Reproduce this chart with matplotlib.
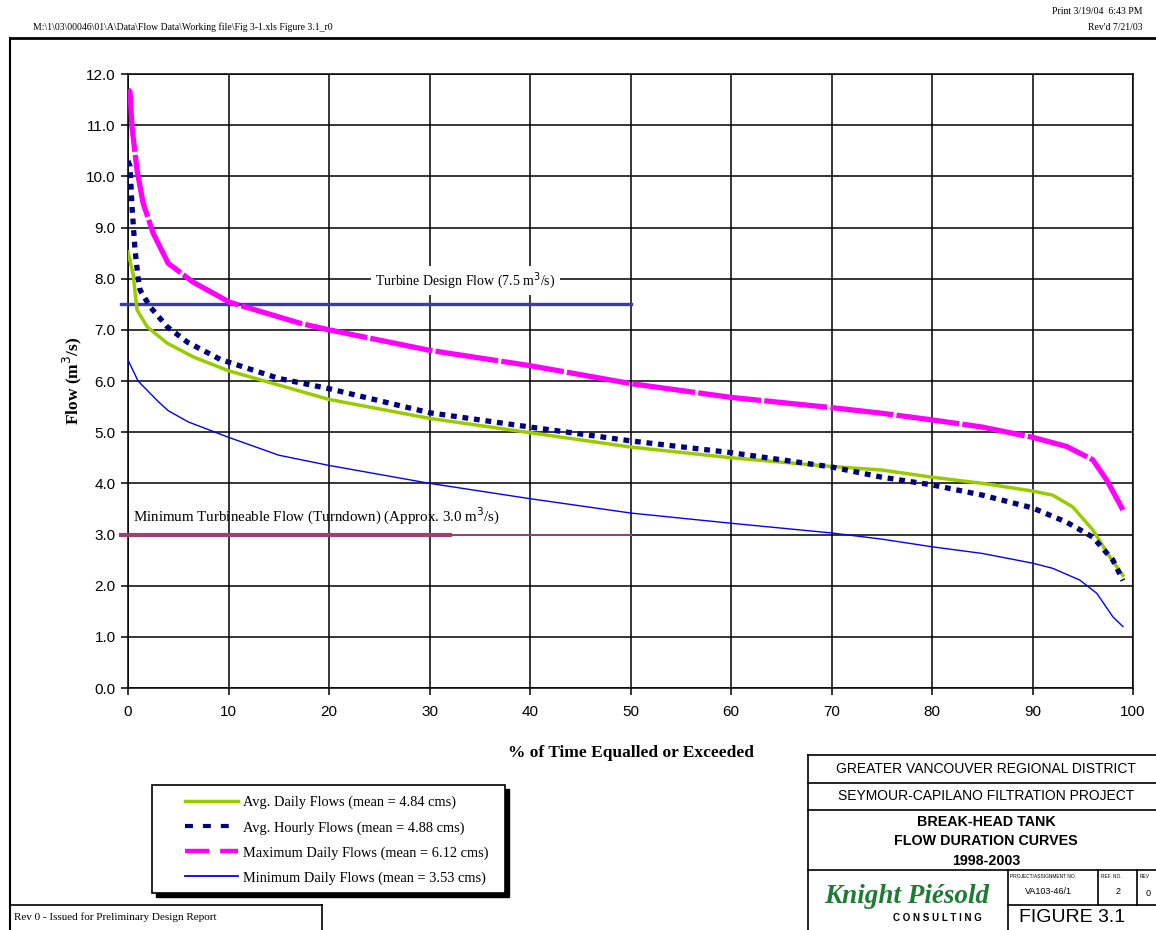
import matplotlib.pyplot as plt
from matplotlib.patches import Rectangle
from matplotlib.lines import Line2D

# Datos (% del tiempo vs caudal m3/s)
avg_daily_x = [0, 0.5, 0.9, 1.9, 3.9, 6.5, 10, 15, 20, 30, 40, 50, 60, 70, 75, 80, 85, 90, 92, 94, 96, 97.7, 99]
avg_daily_y = [8.52, 8.1, 7.39, 7.06, 6.74, 6.47, 6.2, 5.92, 5.64, 5.27, 4.99, 4.71, 4.5, 4.33, 4.26, 4.12, 4.0, 3.85, 3.77, 3.54, 3.09, 2.56, 2.2]

avg_hourly_x = [0, 0.2, 0.4, 0.7, 1.0, 1.2, 2.2, 3.9, 5.9, 9.2, 15, 20, 30, 40, 50, 60, 70, 75, 80, 85, 90, 93.4, 96, 98, 99]
avg_hourly_y = [10.3, 10.2, 9.4, 8.56, 8.03, 7.78, 7.45, 7.06, 6.76, 6.42, 6.05, 5.85, 5.38, 5.1, 4.83, 4.6, 4.32, 4.12, 3.97, 3.77, 3.52, 3.24, 2.95, 2.5, 2.1]

max_daily_x = [0, 0.2, 0.4, 0.9, 1.5, 2.5, 4, 6.5, 10.1, 17.1, 20, 30, 40, 50, 60, 70, 75, 80, 85, 90, 93.4, 96, 97.4, 99]
max_daily_y = [11.7, 11.65, 10.96, 10.12, 9.48, 8.89, 8.3, 7.93, 7.54, 7.13, 7.0, 6.6, 6.3, 5.95, 5.68, 5.48, 5.37, 5.24, 5.1, 4.9, 4.72, 4.46, 4.06, 3.48]

min_daily_x = [0, 1, 2, 3, 4, 6, 8, 10, 15, 20, 30, 40, 50, 60, 70, 75, 80, 85, 90, 92, 94.7, 96.4, 98, 99]
min_daily_y = [6.41, 6.0, 5.8, 5.6, 5.42, 5.2, 5.05, 4.9, 4.55, 4.35, 4.0, 3.7, 3.42, 3.22, 3.03, 2.91, 2.76, 2.63, 2.44, 2.34, 2.11, 1.85, 1.39, 1.2]

labels = ["Avg. Daily Flows (mean = 4.84 cms)",
          "Avg. Hourly Flows (mean = 4.88 cms)",
          "Maximum Daily Flows (mean = 6.12 cms)",
          "Minimum Daily Flows (mean = 3.53 cms)"]

turbine_flow = 7.5
turndown_flow = 3.0
ref_x = [-0.7, 50]
turndown_thick_x = [-0.7, 32]

serif = "Liberation Serif"
sans = "Liberation Sans"

fig = plt.figure(figsize=(11.56, 9.3), dpi=100)
W, H = 1156, 930


def fx(px):
    return px / W


def fy(py):
    return 1 - py / H


ax = fig.add_axes([fx(128), fy(688), fx(1133) - fx(128), fy(74) - fy(688)])
ax.set_xlim(0, 100)
ax.set_ylim(0, 12)
ax.set_xticks(range(0, 101, 10))
ax.set_yticks(range(0, 13))
ax.set_yticklabels([f"{v:.1f}" for v in range(0, 13)])
ax.grid(True, color="black", linewidth=1.1)
ax.set_axisbelow(True)
for s in ax.spines.values():
    s.set_color("black")
    s.set_linewidth(1.1)
ax.tick_params(direction="out", length=5, width=1.1, labelsize=11, pad=4)
ax.tick_params(axis="x", pad=7)
for t in ax.get_xticklabels() + ax.get_yticklabels():
    t.set_fontfamily(sans)

# lineas de referencia
ax.plot(ref_x, [turbine_flow] * 2, color="#3b3ba8", lw=2.4, clip_on=False, zorder=3)
ax.plot(ref_x, [turndown_flow] * 2, color="#a0406e", lw=1.4, clip_on=False, zorder=3)
ax.plot(turndown_thick_x, [turndown_flow] * 2, color="#a0406e", lw=3, clip_on=False, zorder=3)
ax.text(33.6, 7.97, "Turbine Design Flow (7.5 m$^3$/s)", family=serif, fontsize=10,
        ha="center", va="center", bbox=dict(facecolor="white", edgecolor="none", pad=3), zorder=4)
ax.text(0.5, 3.35, "Minimum Turbineable Flow (Turndown) (Approx. 3.0 m$^3$/s)", family=serif,
        fontsize=10.8, ha="left", va="center", zorder=4)

# curvas de duracion
l1, = ax.plot(avg_daily_x, avg_daily_y, color="#99cc00", lw=2.5, zorder=5)
l2, = ax.plot(avg_hourly_x, avg_hourly_y, color="#000080", lw=3.8, linestyle=(0, (1.1, 1.1)), zorder=6)
l3, = ax.plot(max_daily_x, max_daily_y, color="#ff00ff", lw=3.8, linestyle=(0, (12, 0.6)), zorder=5)
l4, = ax.plot(min_daily_x, min_daily_y, color="#0000ff", lw=1.0, zorder=5)

ax.set_xlabel("% of Time Equalled or Exceeded", family=serif, fontsize=12.5, fontweight="bold", labelpad=19)
ax.set_ylabel("Flow (m$^3$/s)", family=serif, fontsize=12.5, fontweight="bold", labelpad=1)

# leyenda (marco dibujado a mano con sombra negra)
fig.add_artist(Rectangle((fx(156), fy(897)), fx(509) - fx(156), fy(789) - fy(897),
                         facecolor="black", edgecolor="black", zorder=1))
fig.add_artist(Rectangle((fx(152), fy(893)), fx(505) - fx(152), fy(785) - fy(893),
                         facecolor="white", edgecolor="black", lw=1.2, zorder=2))
h1 = Line2D([], [], color="#99cc00", lw=2.5)
h2 = Line2D([], [], color="#000080", lw=3.0, linestyle=(0, (1.9, 2.4)))
h3 = Line2D([], [], color="#ff00ff", lw=3.2, linestyle=(0, (5.5, 2.4)))
h4 = Line2D([], [], color="#0000ff", lw=1.3)
leg = fig.legend([h1, h2, h3, h4], labels, loc="upper left",
                 bbox_to_anchor=(fx(185), fy(796)), prop={"family": serif, "size": 10.4},
                 frameon=False, handlelength=3.7, handletextpad=0.3, labelspacing=0.8,
                 borderpad=0, borderaxespad=0)
leg.set_zorder(3)

# marco de la pagina
fig.add_artist(Line2D([fx(10), 1], [fy(38), fy(38)], color="black", lw=2))
fig.add_artist(Line2D([fx(10), fx(10)], [fy(38), 0], color="black", lw=1.5))
fig.add_artist(Line2D([fx(10), fx(322)], [fy(905), fy(905)], color="black", lw=1.2))
fig.add_artist(Line2D([fx(322), fx(322)], [fy(905), 0], color="black", lw=1.2))
fig.text(fx(14), fy(917), "Rev 0 - Issued for Preliminary Design Report", family=serif, fontsize=8, va="center")

fig.text(fx(33), fy(27), r"M:\1\03\00046\01\A\Data\Flow Data\Working file\Fig 3-1.xls Figure 3.1_r0",
         family=serif, fontsize=7, va="center")
fig.text(fx(1142), fy(12), "Print 3/19/04  6:43 PM", family=serif, fontsize=7, ha="right", va="center")
fig.text(fx(1142), fy(28), "Rev'd 7/21/03", family=serif, fontsize=7, ha="right", va="center")

# bloque de titulo
for (x0, y0, x1, y1) in [(808, 755, 1156, 755), (808, 755, 808, 930), (808, 783, 1156, 783),
                         (808, 810, 1156, 810), (808, 870, 1156, 870), (1008, 870, 1008, 930),
                         (1098, 870, 1098, 905), (1137, 870, 1137, 905), (1008, 905, 1156, 905)]:
    fig.add_artist(Line2D([fx(x0), fx(x1)], [fy(y0), fy(y1)], color="black", lw=1.2))
cx = fx(986)
fig.text(cx, fy(769), "GREATER VANCOUVER REGIONAL DISTRICT", family=sans, fontsize=10, ha="center", va="center")
fig.text(cx, fy(796), "SEYMOUR-CAPILANO FILTRATION PROJECT", family=sans, fontsize=10, ha="center", va="center")
fig.text(cx, fy(841), "BREAK-HEAD TANK\nFLOW DURATION CURVES\n1998-2003", family=sans, fontsize=10.3,
         fontweight="bold", ha="center", va="center", linespacing=1.5)
fig.text(fx(907), fy(896), "Knight Piésold", family=serif, fontsize=19.5, fontweight="bold",
         fontstyle="italic", color="#1e7b34", ha="center", va="center")
fig.text(fx(937), fy(918), "C O N S U L T I N G", family=sans, fontsize=7, fontweight="bold",
         ha="center", va="center")
fig.text(fx(1010), fy(876), "PROJECT/ASSIGNMENT NO.", family=sans, fontsize=3.5, va="center")
fig.text(fx(1048), fy(891), "VA103-46/1", family=sans, fontsize=6.5, ha="center", va="center")
fig.text(fx(1101), fy(876), "REF. NO.", family=sans, fontsize=3.5, va="center")
fig.text(fx(1118), fy(891), "2", family=sans, fontsize=6.5, ha="center", va="center")
fig.text(fx(1140), fy(876), "REV", family=sans, fontsize=3.5, va="center")
fig.text(fx(1148), fy(893), "0", family=sans, fontsize=6.5, ha="center", va="center")
fig.text(fx(1072), fy(917), "FIGURE 3.1", family=sans, fontsize=14, ha="center", va="center")

fig.savefig("out.png", dpi=100)
